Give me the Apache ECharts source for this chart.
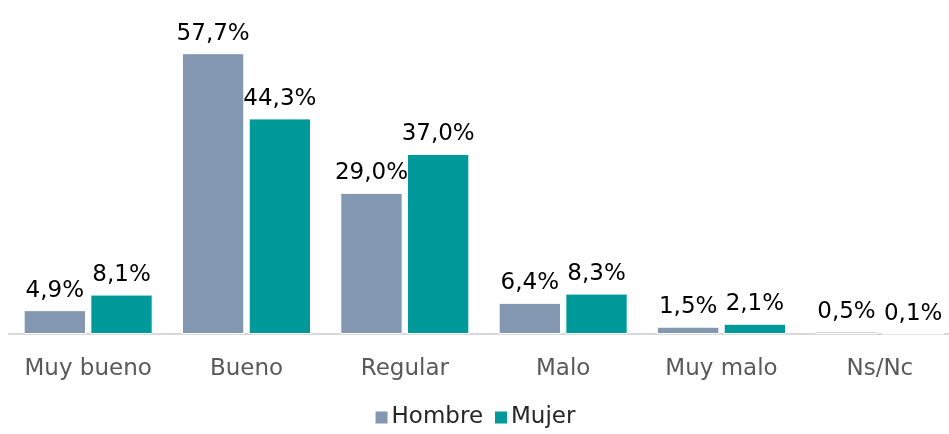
<!DOCTYPE html>
<html>
<head>
<meta charset="utf-8">
<script src="https://cdn.jsdelivr.net/npm/echarts@6/dist/echarts.min.js"></script>
<style>
  html, body { margin: 0; padding: 0; background: #fff; }
  #chart { width: 949px; height: 434px; }
</style>
</head>
<body>
<div id="chart"></div>
<script>
const categories = ['Muy bueno', 'Bueno', 'Regular', 'Malo', 'Muy malo', 'Ns/Nc']
const hombre = [4.9, 57.7, 29.0, 6.4, 1.5, 0.5]
const mujer = [8.1, 44.3, 37.0, 8.3, 2.1, 0.1]

const fmt = p => p.value.toFixed(1).replace('.', ',') + '%'
const font = '"DejaVu Sans", sans-serif'

const chart = echarts.init(document.getElementById('chart'))
chart.setOption({
  animation: false,
  textStyle: { fontFamily: font },
  grid: { left: 9, width: 950, top: 42, height: 292, outerBoundsMode: 'none', containLabel: false },
  legend: {
    bottom: 0,
    left: 'center',
    itemWidth: 14,
    itemHeight: 14,
    itemGap: 10,
    icon: 'rect',
    textStyle: { fontSize: 23, color: '#262626', fontFamily: font, padding: [0, 0, 0, -2] },
    data: ['Hombre', 'Mujer']
  },
  xAxis: {
    type: 'category',
    data: categories,
    axisTick: { show: false },
    axisLine: { lineStyle: { color: '#d9d9d9', width: 2 } },
    axisLabel: { interval: 0, fontSize: 23, color: '#595959', margin: 24, fontFamily: font }
  },
  yAxis: {
    type: 'value',
    min: 0,
    max: 60,
    show: false,
    splitLine: { show: false }
  },
  series: [
    {
      name: 'Hombre',
      type: 'bar',
      data: hombre,
      barGap: '7%',
      barCategoryGap: '18.5%',
      itemStyle: { color: '#8497b0', borderColor: '#fff', borderWidth: 1 },
      label: { show: true, position: 'top', distance: 8, fontSize: 23, color: '#000', formatter: fmt, fontFamily: font }
    },
    {
      name: 'Mujer',
      type: 'bar',
      data: mujer,
      itemStyle: { color: '#009999', borderColor: '#fff', borderWidth: 1 },
      label: { show: true, position: 'top', distance: 8, fontSize: 23, color: '#000', formatter: fmt, fontFamily: font }
    }
  ]
})
</script>
</body>
</html>
